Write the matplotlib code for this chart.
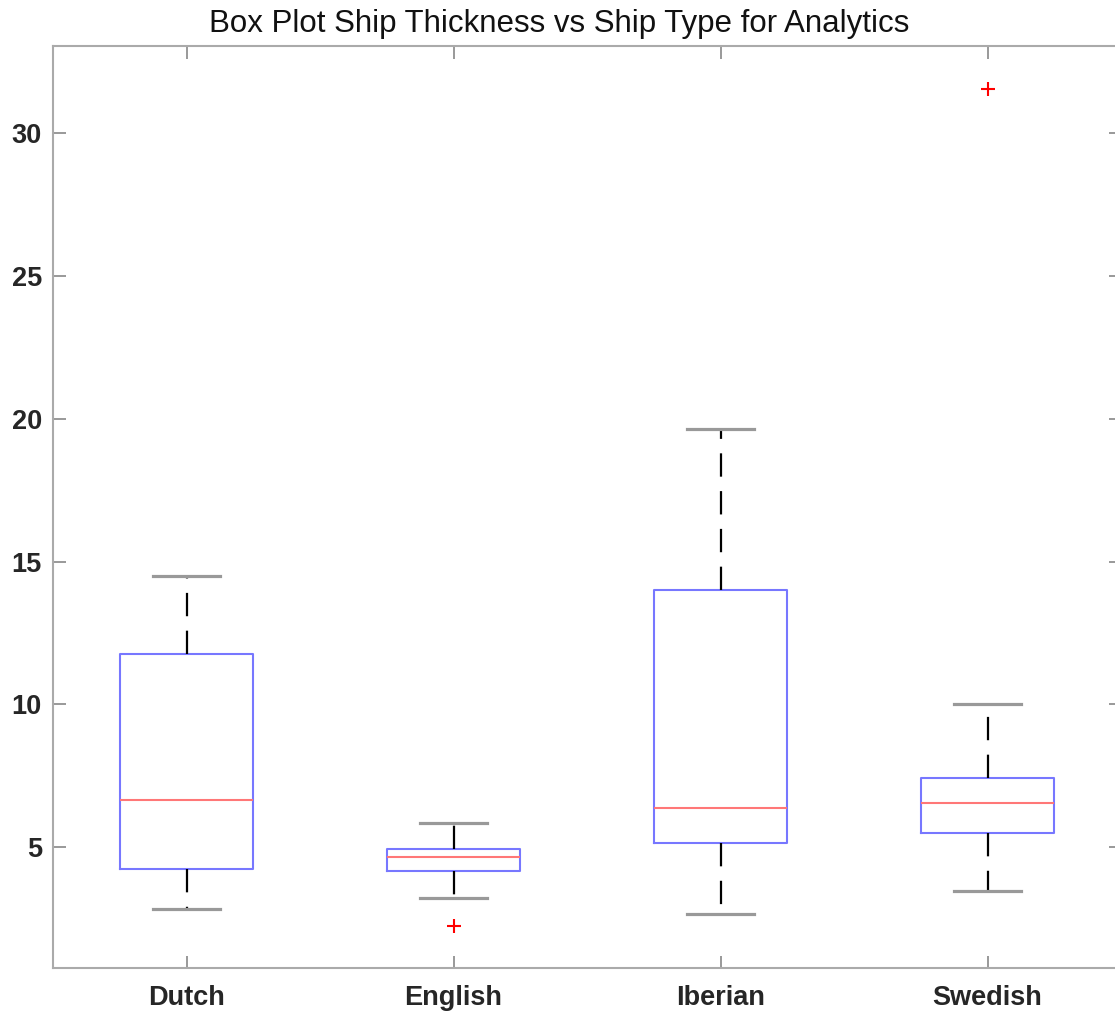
import matplotlib
matplotlib.use("Agg")
import matplotlib.pyplot as plt

categories = ["Dutch", "English", "Iberian", "Swedish"]
q1 = [4.22, 4.16, 5.14, 5.50]
median = [6.64, 4.65, 6.36, 6.54]
q3 = [11.78, 4.93, 13.99, 7.42]
whisker_low = [2.83, 3.22, 2.66, 3.46]
whisker_high = [14.51, 5.84, 19.65, 10.0]
outliers = [[], [2.24], [], [31.54]]
yticks = [5, 10, 15, 20, 25, 30]

plt.rcParams['font.family'] = ['Liberation Sans', 'DejaVu Sans']

fig = plt.figure(figsize=(11.15, 10.13), dpi=100)
ax = fig.add_axes([53 / 1115, 1 - 968 / 1013, (1121 - 53) / 1115, (968 - 46) / 1013])

stats = []
for i, c in enumerate(categories):
    stats.append(dict(label=c, q1=q1[i], med=median[i], q3=q3[i],
                      whislo=whisker_low[i], whishi=whisker_high[i], fliers=outliers[i]))

ax.bxp(stats, positions=range(1, len(categories) + 1), widths=0.5, capwidths=0.25,
       boxprops=dict(color='#7777ff', linewidth=1.5),
       medianprops=dict(color='#ff7777', linewidth=1.5),
       whiskerprops=dict(color='black', linewidth=1.6, linestyle=(0, (10.5, 6.5))),
       capprops=dict(color='#999999', linewidth=2.3),
       flierprops=dict(marker='+', markeredgecolor='red', markersize=10, markeredgewidth=1.5, linestyle='none'))

ax.set_xlim(0.5, 4.5)
ax.set_ylim(0.77, 33.05)
ax.set_yticks(yticks)
ax.set_xticks(range(1, len(categories) + 1))
ax.set_xticklabels(categories)

for s in ax.spines.values():
    s.set_color('#aaaaaa')
    s.set_linewidth(1.5)
ax.tick_params(direction='in', length=9, width=1.2, color='#888888',
               top=True, right=True, labelsize=19.5, labelcolor='#262626')
ax.tick_params(axis='x', pad=12)
ax.tick_params(axis='y', pad=8)
for lab in ax.get_xticklabels() + ax.get_yticklabels():
    lab.set_fontweight('bold')

fig.text(559 / 1115, 1 - 24 / 1013, "Box Plot Ship Thickness vs Ship Type for Analytics",
         ha='center', va='center', fontsize=22.5, color='#111111')

fig.savefig("out.png", dpi=100)
